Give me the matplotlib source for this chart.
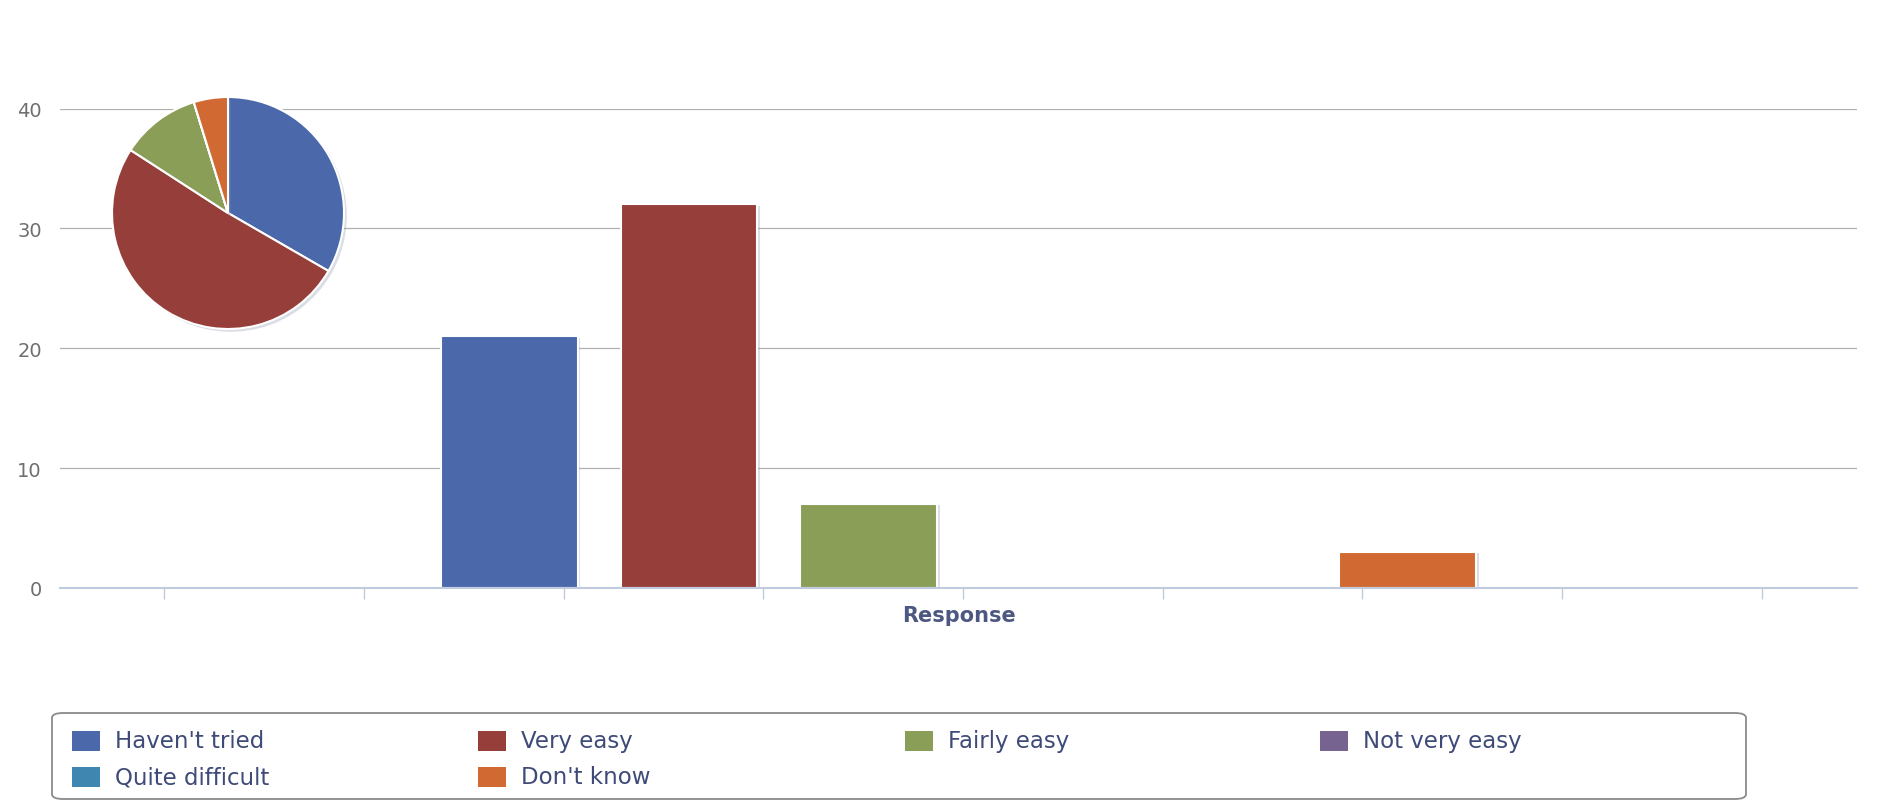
import matplotlib
matplotlib.use("Agg")
import matplotlib.pyplot as plt
import matplotlib.patheffects as pe
from matplotlib.patches import FancyBboxPatch, Rectangle
import numpy as np

# Survey answers and their counts
series_names = ["Haven't tried", "Very easy", "Fairly easy",
                "Not very easy", "Quite difficult", "Don't know"]
series_values = [21, 32, 7, 0, 0, 3]
series_colors = ["#4a68aa", "#963f3a", "#8b9e58", "#76638f", "#3f86b0", "#d06a32"]
category_label = "Response"
y_ticks = [0, 10, 20, 30, 40]

W, H = 1885, 803
fig = plt.figure(figsize=(W / 100, H / 100), dpi=100)
fig.patch.set_facecolor("white")
plt.rcParams["font.family"] = ["DejaVu Sans"]

# Main bar axes
ax_left, ax_right = 60 / W, 1857 / W
ax_bottom, ax_top = 1 - 589 / H, 1 - 109.5 / H
ax = fig.add_axes([ax_left, ax_bottom, ax_right - ax_left, ax_top - ax_bottom])
ax.set_facecolor("white")

n = len(series_values)
positions = np.arange(n) - (n - 1) / 2
shadow = [pe.SimplePatchShadow(offset=(2, -1), shadow_rgbFace="#9aa3b8", alpha=0.35), pe.Normal()]
for x, v, c in zip(positions, series_values, series_colors):
    if v > 0:
        ax.bar(x, v, width=0.76, color=c, edgecolor="white", linewidth=1.5,
               zorder=3, path_effects=shadow)

ax.set_xlim(-5, 5)
ax.set_ylim(0, 40)
ax.set_yticks(y_ticks)
ax.set_yticklabels([str(t) for t in y_ticks], color="#6f6f6f", fontsize=14)
ax.yaxis.grid(True, color="#b0b0b0", linewidth=0.9, zorder=0)
ax.tick_params(axis="y", length=0, pad=13)

# Evenly spaced x ticks along the bottom axis
xt = -5 + 0.025 + (np.arange(9) + 0.5) * (10 / 9)
ax.set_xticks(xt)
ax.set_xticklabels([])
ax.tick_params(axis="x", length=8, color="#c0cbe0", width=1)

for s in ["top", "right", "left"]:
    ax.spines[s].set_visible(False)
ax.spines["bottom"].set_color("#c0cbe0")
ax.spines["bottom"].set_linewidth(1.5)
ax.spines["bottom"].set_zorder(4)

ax.set_xlabel(category_label, color="#4d5882", fontsize=15, fontweight="bold", labelpad=1)

# Pie inset of the same counts
cx, cy, r = 228, 214, 116
pax = fig.add_axes([(cx - r) / W, 1 - (cy + r) / H, 2 * r / W, 2 * r / H])
wedges, _ = pax.pie(series_values, colors=series_colors, startangle=90, counterclock=False,
                    radius=1.0,
                    wedgeprops=dict(edgecolor="white", linewidth=1.5))
for w in wedges:
    w.set_path_effects([pe.SimplePatchShadow(offset=(2, -2), shadow_rgbFace="#8890a8", alpha=0.3),
                        pe.Normal()])
pax.set_xlim(-1.0, 1.0)
pax.set_ylim(-1.0, 1.0)
pax.set_aspect("equal")
pax.axis("off")

# Legend box
box_x0, box_y0, box_x1, box_y1 = 52, 714, 1746, 800
fig.patches.append(FancyBboxPatch(
    (box_x0 / W, 1 - box_y1 / H), (box_x1 - box_x0) / W, (box_y1 - box_y0) / H,
    boxstyle="round,pad=0,rounding_size=0.006", transform=fig.transFigure,
    facecolor="white", edgecolor="#8a8a8a", linewidth=1.3, zorder=1))

col_x = [72, 478, 905, 1320]
row_y = [742, 778]
mw, mh = 28, 20
for i, (name, c) in enumerate(zip(series_names, series_colors)):
    row, col = divmod(i, 4)
    mx, my = col_x[col], row_y[row]
    fig.patches.append(Rectangle((mx / W, 1 - (my + mh / 2) / H), mw / W, mh / H,
                                 transform=fig.transFigure, facecolor=c, edgecolor="none", zorder=2))
    fig.text((mx + mw + 15) / W, 1 - my / H, name, fontsize=16.5, color="#3e4a78",
             va="center", ha="left", zorder=3)

fig.savefig("out.png", dpi=100, facecolor="white")
